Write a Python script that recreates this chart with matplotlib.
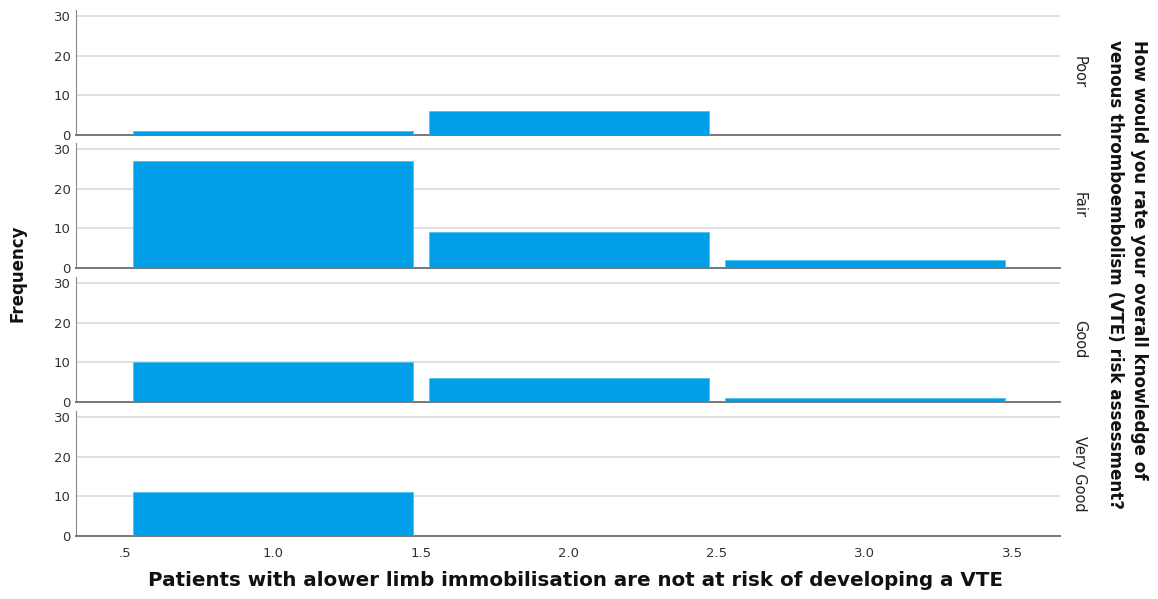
import matplotlib
matplotlib.use("Agg")
import matplotlib.pyplot as plt

categories = [1.0, 2.0, 3.0]
rows = ["Poor", "Fair", "Good", "Very Good"]
freq_poor = [1, 6, 0]
freq_fair = [27, 9, 2]
freq_good = [10, 6, 1]
freq_verygood = [11, 0, 0]
series = [freq_poor, freq_fair, freq_good, freq_verygood]
xtick_vals = [0.5, 1.0, 1.5, 2.0, 2.5, 3.0, 3.5]
xtick_labels = [".5", "1.0", "1.5", "2.0", "2.5", "3.0", "3.5"]
yticks = [0, 10, 20, 30]

W, H = 1158, 599
fig = plt.figure(figsize=(W / 100, H / 100), dpi=100)
left = 76 / W
right = 1060 / W
panel_tops = [10, 143, 277, 411]
panel_h = 125
bar_color = "#009FE8"

axes = []
for i, (name, vals) in enumerate(zip(rows, series)):
    top = panel_tops[i]
    ax = fig.add_axes([left, 1 - (top + panel_h) / H, right - left, panel_h / H])
    ax.bar(categories, vals, width=0.946, color=bar_color, edgecolor="#4FC0F0",
           linewidth=0.6, zorder=3)
    ax.set_xlim(0.334, 3.66)
    ax.set_ylim(0, 31.5)
    ax.set_yticks(yticks)
    ax.set_yticklabels([str(v) for v in yticks], fontsize=9.5, color="#333333")
    ax.yaxis.grid(True, color="#DADADA", linewidth=1.2, zorder=0)
    ax.set_axisbelow(True)
    for s in ["top", "right"]:
        ax.spines[s].set_visible(False)
    ax.spines["left"].set_color("#888888")
    ax.spines["bottom"].set_color("#777777")
    ax.spines["bottom"].set_linewidth(1.4)
    ax.tick_params(axis="both", length=0, pad=4)
    ax.set_xticks(xtick_vals)
    if i < 3:
        ax.set_xticklabels([])
    else:
        ax.set_xticklabels(xtick_labels, fontsize=9.5, color="#333333")
        ax.tick_params(axis="x", pad=8)
    ax.text(1.012, 0.5, name, transform=ax.transAxes, rotation=-90,
            ha="left", va="center", fontsize=10.5, color="#222222")
    axes.append(ax)

fig.text(18 / W, 1 - 273 / H, "Frequency", rotation=90, ha="center", va="center",
         fontsize=12, fontweight="bold", color="#111111")
fig.text(576 / W, 1 - 580 / H,
         "Patients with alower limb immobilisation are not at risk of developing a VTE",
         ha="center", va="center", fontsize=14.3, fontweight="bold", color="#111111")
fig.text(1127 / W, 1 - 275 / H,
         "How would you rate your overall knowledge of\nvenous thromboembolism (VTE) risk assessment?",
         rotation=-90, ha="center", va="center", fontsize=12.1, fontweight="bold",
         color="#111111", linespacing=1.45, multialignment="left")

fig.savefig("out.png", dpi=100)
